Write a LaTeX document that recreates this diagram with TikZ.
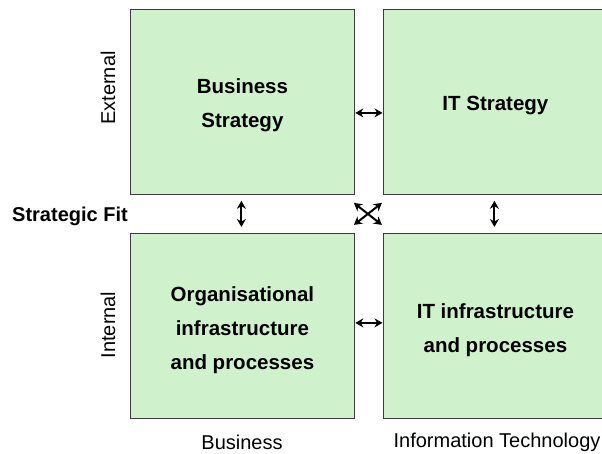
\documentclass[tikz,border=0pt]{standalone}
\usepackage{fontspec}
\setmainfont{Liberation Sans}
\usetikzlibrary{arrows.meta,calc}
\definecolor{boxgreen}{HTML}{CFF2CC}
\definecolor{boxline}{HTML}{3C3C3C}
\tikzset{
    quadrant/.style={draw=boxline, thick, fill=boxgreen, minimum width=224pt,
        minimum height=185pt, anchor=north west},
    boxtext/.style={align=center, font=\fontsize{20.5}{34}\selectfont\bfseries},
    fitarrow/.style={{Stealth[length=8pt,width=9pt]}-{Stealth[length=8pt,width=9pt]}, line width=2pt}
}
\begin{document}
\begin{tikzpicture}[x=1pt, y=-1pt, font=\fontsize{20}{24}\selectfont]
    \useasboundingbox (0, 0) rectangle (602, 454);
    % the four quadrants
    \node[quadrant] (bs) at (130, 9) {};
    \node[quadrant] (its) at (383, 9) {};
    \node[quadrant] (org) at (130, 233) {};
    \node[quadrant] (iti) at (383, 233) {};
    \node[boxtext] (bstext) at ([yshift=-3pt]bs.center) {Business\\Strategy};
    \node[boxtext] (itstext) at ([yshift=-4pt]its.center) {IT Strategy};
    \node[boxtext] (orgtext) at ([yshift=-4pt]org.center) {Organisational\\infrastructure\\and processes};
    \node[boxtext] (ititext) at ([yshift=-4pt]iti.center) {IT infrastructure\\and processes};

    % row and column labels
    \node[rotate=90] (ext) at (108, 88) {External};
    \node[rotate=90] (int) at (108, 325) {Internal};
    \node[font=\fontsize{20}{24}\selectfont\bfseries] (fit) at (70, 216) {Strategic Fit};
    \node (bus) at (242, 442) {Business};
    \node (tech) at (497, 442) {Information Technology};

    % horizontal links
    \draw[fitarrow, shorten <=0.5pt, shorten >=0.5pt] ([yshift=-11pt]bs.east) -- ([yshift=-11pt]its.west);
    \draw[fitarrow, shorten <=0.5pt, shorten >=0.5pt] ([yshift=3pt]org.east) -- ([yshift=3pt]iti.west);
    % vertical links
    \draw[fitarrow, shorten <=6pt, shorten >=6pt] ([xshift=-1pt]bs.south) -- ([xshift=-1pt]org.north);
    \draw[fitarrow, shorten <=6pt, shorten >=6pt] ([xshift=-1pt]its.south |- bs.south) -- ([xshift=-1pt]iti.north);
    % cross links, round the middle of the gap
    \coordinate (mid) at ([xshift=-1pt]$(bs.south east)!0.5!(iti.north west)$);
    \draw[fitarrow] ([shift={(-14,-11)}]mid) -- ([shift={(14,11)}]mid);
    \draw[fitarrow] ([shift={(14,-11)}]mid) -- ([shift={(-14,11)}]mid);
\end{tikzpicture}
\end{document}
